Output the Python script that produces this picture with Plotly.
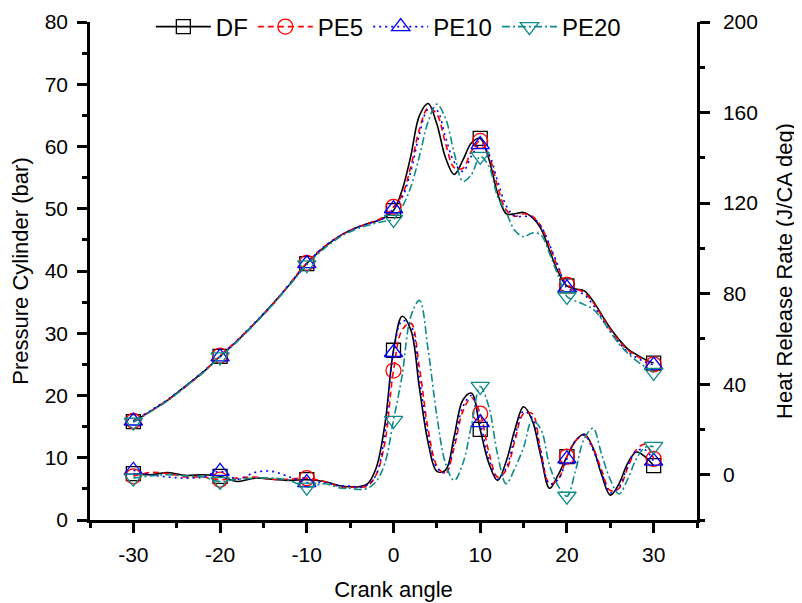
import plotly.graph_objects as go

# Crank angle grid (deg)
CA = [-30, -28, -26, -24, -22, -20, -18, -16, -14, -12, -10, -8, -6,
      -5, -4, -3, -2, -1,
      0, 1, 2, 3, 4, 5, 6, 7, 8, 9, 10, 11, 12, 13, 14, 15, 16, 17, 18, 19, 20,
      21, 22, 23, 24, 25, 26, 27, 28, 29, 30]
MARK_CA = [-30, -20, -10, 0, 10, 20, 30]

SERIES = ["DF", "PE5", "PE10", "PE20"]

X_TICKS = [-30, -20, -10, 0, 10, 20, 30]
X_LABELS = ["-30", "-20", "-10", "0", "10", "20", "30"]
Y2_TICKS = [0, 40, 80, 120, 160, 200]

# Cylinder pressure (bar)
DF_P = [15.8, 17.5, 19.3, 21.5, 23.7, 26.3, 28.8, 31.6, 34.6, 37.8, 41.2, 43.8, 45.8,
        46.5, 47.1, 47.6, 48.0, 48.6,
        49.7, 53.0, 58.5, 65.0, 66.9, 63.6, 58.2, 55.5, 57.8, 60.6, 61.3, 58.0, 52.5, 49.2, 49.2,
        49.4, 48.6, 46.8, 43.3, 39.8, 37.6, 37.1, 36.8, 35.2, 33.0, 30.8, 29.0, 27.5, 26.6, 25.8, 25.2]
PE5_P = [15.9, 17.5, 19.3, 21.4, 23.7, 26.4, 28.9, 31.6, 34.5, 37.9, 41.3, 43.9, 45.8,
         46.5, 47.1, 47.6, 48.1, 48.8,
         50.3, 52.2, 56.8, 62.8, 66.2, 65.2, 60.5, 56.6, 56.5, 59.3, 60.9, 58.6, 53.6, 49.8, 48.8,
         49.2, 48.8, 47.2, 44.0, 40.5, 37.8, 37.2, 36.5, 35.0, 32.8, 30.6, 28.8, 27.3, 26.4, 25.6, 25.0]
PE10_P = [15.9, 17.6, 19.4, 21.5, 23.8, 26.2, 28.9, 31.7, 34.6, 37.9, 41.2, 43.9, 45.8,
          46.5, 47.1, 47.6, 48.0, 48.6,
          50.0, 51.8, 56.0, 62.0, 66.0, 65.8, 61.5, 57.5, 56.0, 58.5, 60.3, 58.8, 54.5, 50.5, 48.8,
          48.8, 48.6, 47.2, 44.2, 40.8, 37.3, 36.8, 36.2, 34.6, 32.4, 30.3, 28.5, 27.0, 26.1, 25.4, 24.9]
PE20_P = [15.7, 17.4, 19.2, 21.4, 23.6, 26.2, 28.7, 31.5, 34.5, 37.7, 41.0, 43.6, 45.6,
          46.3, 46.9, 47.3, 47.7, 48.0,
          48.3, 50.3, 53.5, 58.5, 64.0, 66.8, 64.5, 59.0, 54.4, 55.5, 58.4, 56.8, 52.0, 49.4, 46.5,
          45.5, 46.1, 45.8, 42.8, 39.2, 35.9, 35.2, 34.6, 33.9, 32.3, 30.2, 28.3, 26.8, 25.6, 24.6, 23.7]

# Heat release rate (J/CA deg)
DF_H = [0.5, 0.0, 1.0, -0.3, 0.0, -0.7, -3.0, -1.5, -2.0, -2.5, -2.2, -3.0, -5.0,
        -5.3, -5.3, -4.0, 3.0, 22.0,
        55.0, 70.0, 64.0, 38.0, 14.0, 1.5, 2.0, 17.0, 33.0, 36.0, 20.0, 5.0, -2.5, 6.0, 20.0,
        30.0, 24.0, 8.0, -6.0, 0.0, 8.0, 15.0, 18.0, 12.0, 0.0, -9.0, -4.0, 5.0, 10.0, 8.0, 4.0]
PE5_H = [-0.7, 1.0, 0.5, -1.0, -1.0, -2.2, -1.5, -1.0, -2.0, -2.0, -1.5, -3.0, -5.5,
         -5.5, -5.5, -5.0, 0.0, 14.0,
         46.0, 64.0, 67.0, 47.0, 20.0, 4.0, 0.5, 12.0, 28.0, 34.0, 27.0, 10.0, -1.0, 2.0, 15.0,
         27.0, 27.0, 10.0, -4.0, -2.0, 8.0, 15.0, 17.5, 12.0, 2.0, -7.0, -6.0, 3.0, 11.0, 13.5, 7.0]
PE10_H = [2.0, 0.0, -1.0, -1.5, -1.0, 1.5, -2.0, 1.0, 1.5, -1.0, -3.5, -3.5, -5.0,
          -5.0, -5.5, -4.5, 0.0, 18.0,
          54.0, 68.0, 66.0, 42.0, 17.0, 3.0, 1.0, 14.0, 30.0, 35.0, 23.0, 7.0, -2.0, 3.0, 17.0,
          28.0, 25.0, 10.0, -4.0, -2.0, 7.0, 15.0, 17.5, 11.0, 1.0, -8.0, -5.5, 4.0, 10.5, 11.0, 6.0]
PE20_H = [-1.5, -0.5, 0.0, -0.5, -1.0, -3.0, -2.0, -1.5, -1.5, -2.5, -5.5, -4.0, -6.0,
          -6.0, -6.5, -6.0, -3.0, 5.0,
          24.0, 44.0, 70.0, 77.0, 55.0, 26.0, 5.0, -2.5, 5.0, 22.0, 39.0, 30.0, 9.0, -4.0, 3.0,
          12.0, 24.0, 20.0, 4.0, -5.0, -9.5, 2.0, 16.0, 20.5, 9.0, -2.2, -8.5, -2.0, 7.0, 12.0, 12.5]

P_DATA = [DF_P, PE5_P, PE10_P, PE20_P]
H_DATA = [DF_H, PE5_H, PE10_H, PE20_H]

COLORS = ["#000000", "#ff0000", "#0000ff", "#0f8a8a"]
DASHES = ["solid", "6px,4px", "2px,4px", "8px,3px,2px,3px"]
SYMBOLS = ["square-open", "circle-open", "triangle-up-open", "triangle-down-open"]
SIZES = [14, 15, 16, 16]

FONT = "Liberation Sans, Arial, sans-serif"

fig = go.Figure()
idx = [CA.index(c) for c in MARK_CA]

for name, p, h, col, dash, sym, sz in zip(SERIES, P_DATA, H_DATA, COLORS, DASHES, SYMBOLS, SIZES):
    for yv, ax in ((p, "y"), (h, "y2")):
        fig.add_trace(go.Scatter(
            x=CA, y=yv, mode="lines", yaxis=ax, showlegend=False, legendgroup=name,
            line=dict(color=col, width=1.6, dash=dash, shape="spline", smoothing=1.0),
            hoverinfo="skip"))
        fig.add_trace(go.Scatter(
            x=MARK_CA, y=[yv[i] for i in idx], mode="markers", yaxis=ax,
            showlegend=False, legendgroup=name,
            marker=dict(symbol=sym, size=sz, color=col, line=dict(width=1.3, color=col))))
    # legend entry
    fig.add_trace(go.Scatter(
        x=[None], y=[None], mode="lines+markers", name=name, legendgroup=name,
        line=dict(color=col, width=1.6, dash=dash),
        marker=dict(symbol=sym, size=sz, color=col, line=dict(width=1.3, color=col))))

axis_common = dict(
    showline=True, linecolor="black", linewidth=2.5,
    ticks="outside", ticklen=10, tickwidth=2.5, tickcolor="black",
    showgrid=False, zeroline=False, automargin=False,
    tickfont=dict(family=FONT, size=21, color="black"),
)

# page body adds an 8px offset, so the figure is 8px smaller on each axis
fig.update_layout(
    width=794, height=595,
    margin=dict(l=82, r=105, t=14, b=83, autoexpand=False),
    paper_bgcolor="white", plot_bgcolor="white",
    font=dict(family=FONT, color="black"),
    xaxis=dict(
        range=[-35, 35], tickvals=X_TICKS, ticktext=X_LABELS,
        minor=dict(dtick=5, tick0=-35, ticklen=5, tickwidth=2.5, ticks="outside", tickcolor="black"),
        title=dict(text="Crank angle", font=dict(family=FONT, size=22), standoff=17),
        ticklabelstandoff=4,
        **axis_common),
    yaxis=dict(
        range=[0, 80], dtick=10, tick0=0,
        minor=dict(dtick=5, ticklen=5, tickwidth=2.5, ticks="outside", tickcolor="black"),
        title=dict(text="Pressure Cylinder (bar)", font=dict(family=FONT, size=22), standoff=16),
        ticklabelstandoff=5,
        **axis_common),
    yaxis2=dict(
        range=[-20, 200], tickvals=Y2_TICKS,
        overlaying="y", side="right",
        minor=dict(tickvals=[-20, 20, 60, 100, 140, 180], ticklen=5, tickwidth=2.5,
                   ticks="outside", tickcolor="black"),
        title=dict(text="Heat Release Rate (J/CA deg)", font=dict(family=FONT, size=22), standoff=20),
        ticklabelstandoff=9,
        **axis_common),
    legend=dict(
        orientation="h", x=0.4915, xanchor="center", y=0.99, yanchor="middle",
        bgcolor="rgba(0,0,0,0)", font=dict(family=FONT, size=24, color="black"),
        itemwidth=55, tracegroupgap=0),
    showlegend=True,
)

fig.write_html("out.html")
